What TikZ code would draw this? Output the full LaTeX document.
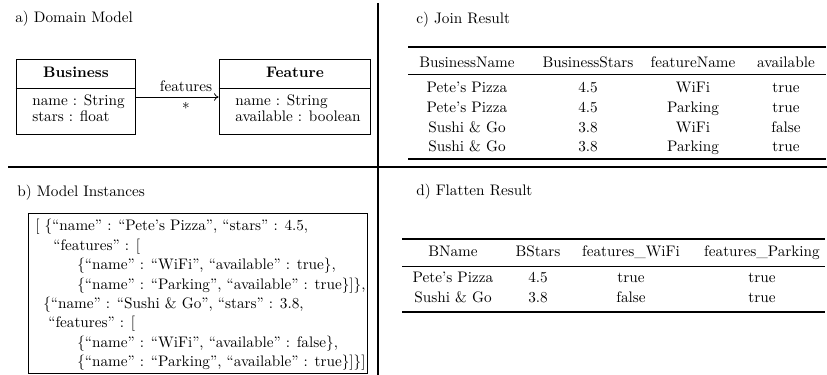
\documentclass[tikz,border=0pt]{standalone}
\usetikzlibrary{arrows.meta}
\begin{document}
\begin{tikzpicture}[x=0.656pt,y=-0.656pt,
  divider/.style={line width=1pt},
  umlbox/.style={draw, line width=0.5pt, inner sep=0pt},
  lbl/.style={anchor=base west, inner sep=0pt},
  cell/.style={anchor=base, inner sep=0pt},
  heavyrule/.style={line width=0.8pt},
  lightrule/.style={line width=0.5pt},
  assoc/.style={line width=0.5pt, -{To[length=3pt,width=5pt]}}]
\useasboundingbox (0,0) rectangle (827,375);
% dividers
\coordinate (vtop) at (378,3);
\coordinate (vbot) at (378,375);
\coordinate (hl) at (8,167);
\coordinate (hr) at (827,167);
\draw[divider] (vtop) -- (vbot);
\draw[divider] (hl) -- (hr);
% panel a
\node[lbl] (ta) at (15,23) {a) Domain Model};
\node[umlbox, minimum width=78.1pt, minimum height=49.2pt] (bus) at (75.5,96.5) {};
\node[umlbox, minimum width=99.1pt, minimum height=49.2pt] (feat) at (294.5,96.5) {};
\draw[line width=0.5pt] (bus.west |- 0,88) -- (bus.east |- 0,88);
\draw[line width=0.5pt] (feat.west |- 0,88) -- (feat.east |- 0,88);
\node[cell] (busT) at (76,78) {\textbf{Business}};
\node[cell] (featT) at (295,78) {\textbf{Feature}};
\node[lbl] (busA1) at (32,106) {name : String};
\node[lbl] (busA2) at (32,122) {stars : float};
\node[lbl] (featA1) at (235,106) {name : String};
\node[lbl] (featA2) at (235,122) {available : boolean};
\draw[assoc] (bus.east |- 0,97) -- (feat.west |- 0,97);
\node[cell] (role) at (186,92) {features};
\node[cell] (mult) at (186,110) {$*$};
% panel b
\node[lbl] (tb) at (17,197) {b) Model Instances};
\draw[line width=0.5pt] (28,213) rectangle (367,373);
\node[lbl] (j1) at (35,231) {[ \{“name” : “Pete’s Pizza”, “stars” : 4.5,};
\node[lbl] (j2) at (53,250.4) {“features” : [};
\node[lbl] (j3) at (77,269.8) {\{“name” : “WiFi”, “available” : true\},};
\node[lbl] (j4) at (77,289.2) {\{“name” : “Parking”, “available” : true\}]\},};
\node[lbl] (j5) at (43,308.6) {\{“name” : “Sushi \& Go”, “stars” : 3.8,};
\node[lbl] (j6) at (48,328) {“features” : [};
\node[lbl] (j7) at (77,347.4) {\{“name” : “WiFi”, “available” : false\},};
\node[lbl] (j8) at (77,366.8) {\{“name” : “Parking”, “available” : true\}]\}]};
% panel c
\node[lbl] (tc) at (416,24) {c) Join Result};
\draw[heavyrule] (408,47) -- (826,47);
\draw[lightrule] (408,74) -- (826,74);
\draw[heavyrule] (408,159) -- (826,159);
\node[cell] (ch1) at (467,68) {BusinessName};
\node[cell] (ch2) at (588,68) {BusinessStars};
\node[cell] (ch3) at (693,68) {featureName};
\node[cell] (ch4) at (786,68) {available};
\node[cell] (c11) at (467,93) {Pete’s Pizza};
\node[cell] (c12) at (588,93) {4.5};
\node[cell] (c13) at (693,93) {WiFi};
\node[cell] (c14) at (786,93) {true};
\node[cell] (c21) at (467,113) {Pete’s Pizza};
\node[cell] (c22) at (588,113) {4.5};
\node[cell] (c23) at (693,113) {Parking};
\node[cell] (c24) at (786,113) {true};
\node[cell] (c31) at (467,133) {Sushi \& Go};
\node[cell] (c32) at (588,133) {3.8};
\node[cell] (c33) at (693,133) {WiFi};
\node[cell] (c34) at (786,133) {false};
\node[cell] (c41) at (467,152) {Sushi \& Go};
\node[cell] (c42) at (588,152) {3.8};
\node[cell] (c43) at (693,152) {Parking};
\node[cell] (c44) at (786,152) {true};
% panel d
\node[lbl] (td) at (416,196) {d) Flatten Result};
\draw[heavyrule] (402,239) -- (825,239);
\draw[lightrule] (402,266) -- (825,266);
\draw[heavyrule] (402,312) -- (825,312);
\node[cell] (dh1) at (453,257) {BName};
\node[cell] (dh2) at (538,257) {BStars};
\node[cell] (dh3) at (631,257) {features\_WiFi};
\node[cell] (dh4) at (762,257) {features\_Parking};
\node[cell] (d11) at (453,283) {Pete’s Pizza};
\node[cell] (d12) at (538,283) {4.5};
\node[cell] (d13) at (631,283) {true};
\node[cell] (d14) at (762,283) {true};
\node[cell] (d21) at (453,303) {Sushi \& Go};
\node[cell] (d22) at (538,303) {3.8};
\node[cell] (d23) at (631,303) {false};
\node[cell] (d24) at (762,303) {true};
\end{tikzpicture}
\end{document}
